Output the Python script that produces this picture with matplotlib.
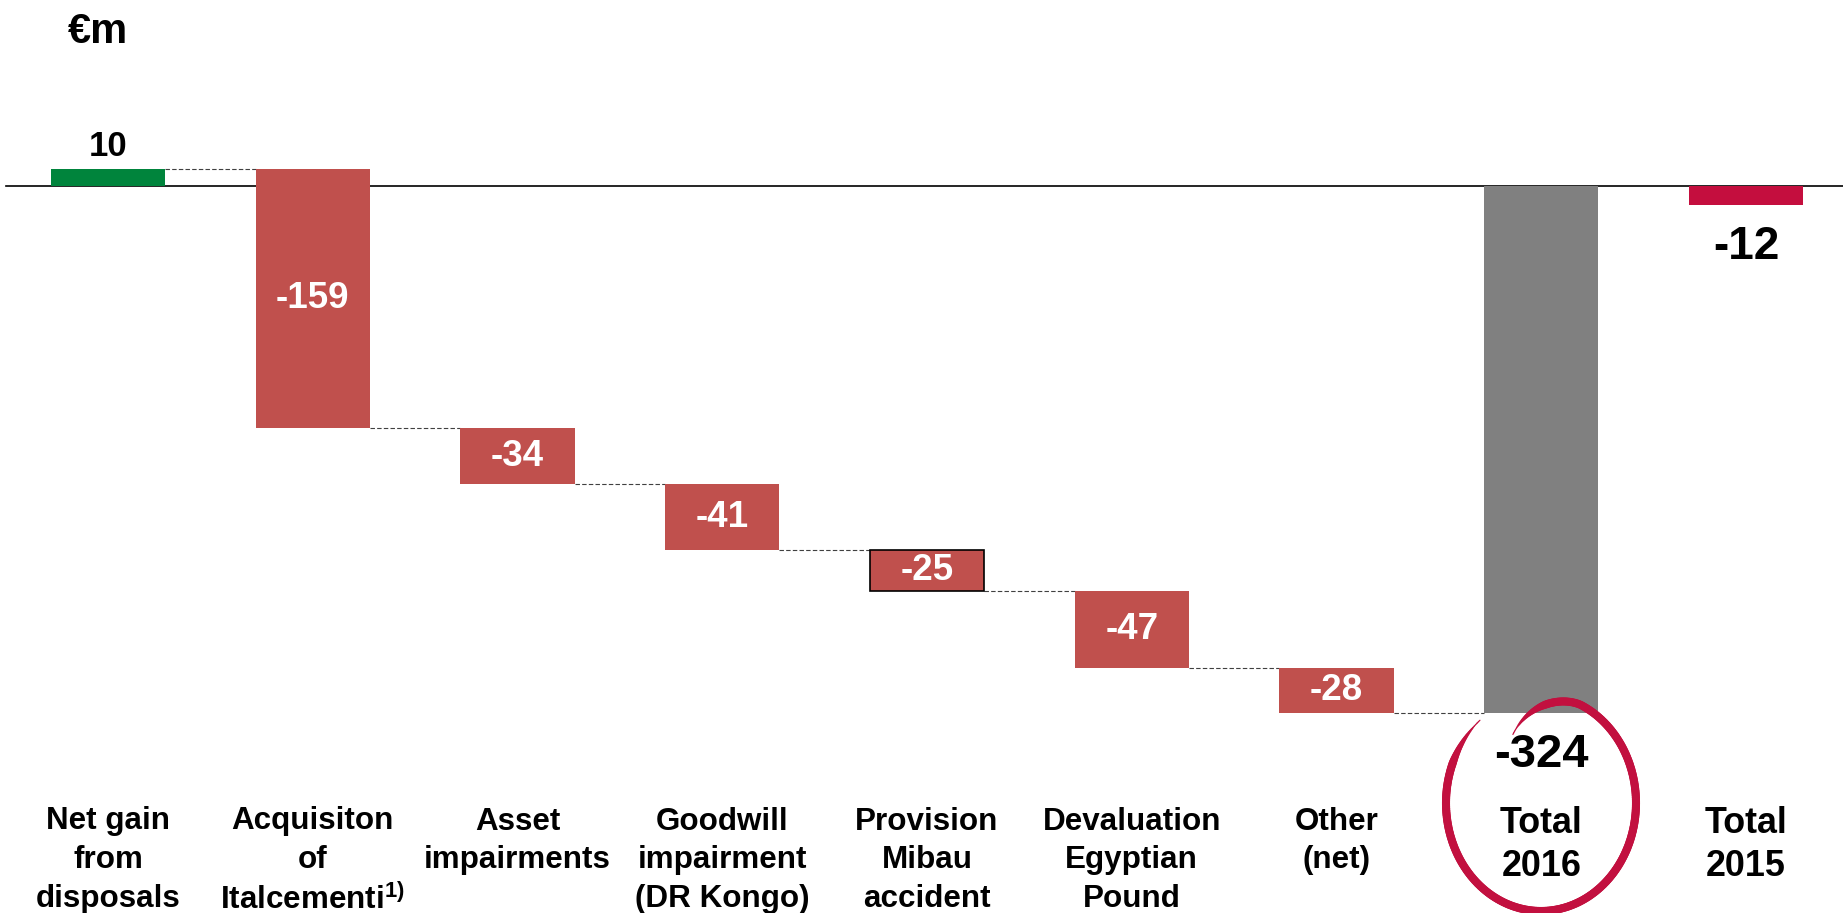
import numpy as np
import matplotlib
matplotlib.use("Agg")
import matplotlib.pyplot as plt
from matplotlib.collections import LineCollection

plt.rcParams['font.family'] = ['Liberation Sans', 'DejaVu Sans']
plt.rcParams['font.weight'] = 'bold'
plt.rcParams['mathtext.fontset'] = 'custom'
plt.rcParams['mathtext.rm'] = 'Liberation Sans:bold'
plt.rcParams['mathtext.it'] = 'Liberation Sans:bold'
plt.rcParams['mathtext.bf'] = 'Liberation Sans:bold'

categories = ["Net gain\nfrom\ndisposals",
              "Acquisiton\nof\nItalcementi$^{1)}$",
              "Asset\nimpairments",
              "Goodwill\nimpairment\n(DR Kongo)",
              "Provision\nMibau\naccident",
              "Devaluation\nEgyptian\nPound",
              "Other\n(net)",
              "Total\n2016",
              "Total\n2015"]
steps = [10, -159, -34, -41, -25, -47, -28]
total_2016 = -324
total_2015 = -12

GREEN = '#00843C'
RED = '#C0504D'
GREY = '#808080'
CRIMSON = '#C40E3E'
W = 0.557

fig = plt.figure(figsize=(18.43, 9.13), dpi=100)
ax = fig.add_axes([0, 0, 1, 1])
ax.set_xlim(-0.5275, 8.4737)
ax.set_ylim(-446.6, 114.04)
ax.axis('off')

ax.axhline(0, xmin=0.0033, xmax=1, color='black', lw=1.2, zorder=1)

# waterfall steps
cum = np.cumsum(steps)
start = np.concatenate([[0], cum[:-1]])
for i, (s, b) in enumerate(zip(steps, start)):
    color = GREEN if s > 0 else RED
    edge = 'black' if i == 4 else 'none'
    ax.bar(i, s, bottom=b, width=W, color=color, edgecolor=edge,
           linewidth=1.2, zorder=2)
    if s > 0:
        ax.annotate(f"{s}", (i, b + s), xytext=(0, 10), textcoords='offset points',
                    ha='center', va='baseline', fontsize=25, color='black')
    else:
        ax.text(i, b + s / 2, f"{s}", ha='center', va='center',
                fontsize=26.5, color='white', zorder=3)
    # dashed connector to the next bar
    ax.plot([i + W / 2, i + 1 - W / 2], [cum[i], cum[i]], ls=(0, (4, 2)),
            color='#404040', lw=0.8, zorder=1)

# totals
ax.bar(7, total_2016, width=W, color=GREY, zorder=2)
ax.bar(8, total_2015, width=W, color=CRIMSON, zorder=2)
for x, v in [(7, total_2016), (8, total_2015)]:
    ax.annotate(f"{v}", (x, v), xytext=(0, -38.9), textcoords='offset points',
                ha='center', va='baseline', fontsize=34 if x == 7 else 33,
                color='black')

# category labels
for i, lab in enumerate(categories):
    big = i >= 7
    top = 805.5 if big else 806.5
    ax.text(i, 1 - top / 913, lab, transform=ax.get_xaxis_transform(),
            ha='center', va='top', fontsize=25.8 if big else 22.6,
            linespacing=1.33 if big else 1.37, color='black')

fig.text(98 / 1843, 1 - 42.7 / 913, "€m", ha='center', va='baseline',
         fontsize=30, color='black')

# hand-drawn loop around the 2016 total
t = np.radians(np.linspace(130, 475, 300))
cx, cy, rx, ry = 1541, 803, 95, 108
shrink = np.where(t > np.radians(425), 1 - 0.3 * ((t - np.radians(425)) / np.radians(50)) ** 1.5, 1.0)
px = cx + rx * shrink * np.cos(t)
py = cy - ry * shrink * np.sin(t)
pts = np.column_stack([px / 1843, 1 - py / 913])
segs = np.stack([pts[:-1], pts[1:]], axis=1)
u = np.linspace(0, 1, len(segs))
widths = 5.8 * np.clip(np.minimum(u / 0.08, (1 - u) / 0.08), 0.15, 1)
loop = LineCollection(segs, linewidths=widths, colors='#C2103F',
                      capstyle='round', transform=fig.transFigure, zorder=4)
fig.add_artist(loop)

fig.savefig('out.png', dpi=100)
